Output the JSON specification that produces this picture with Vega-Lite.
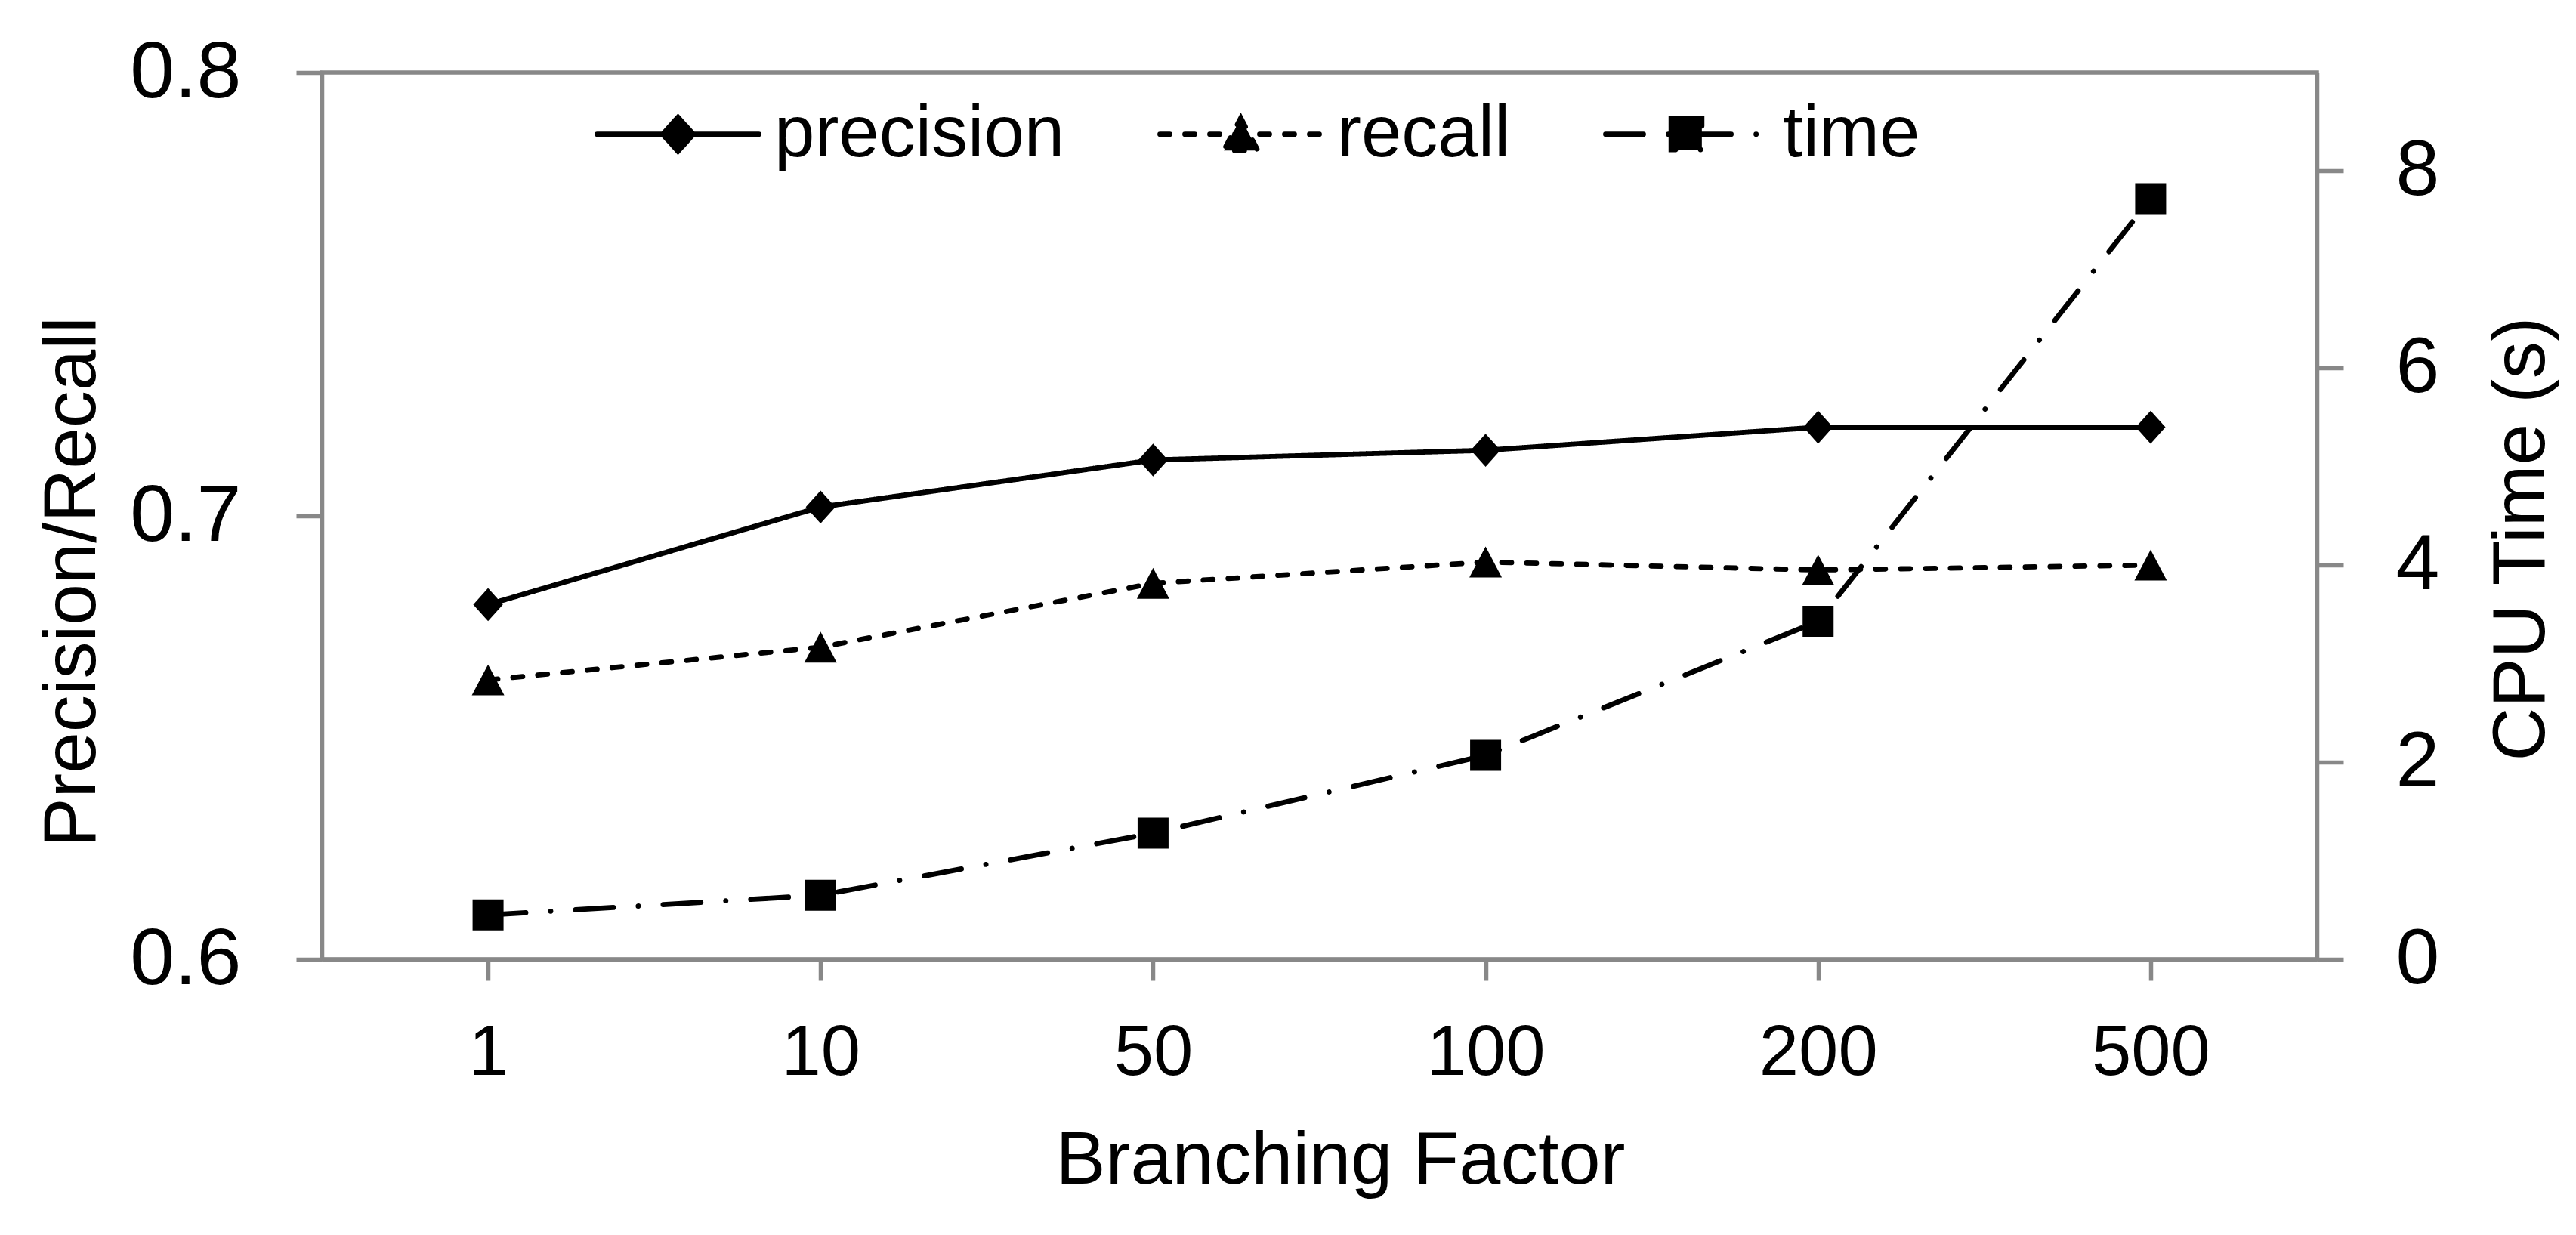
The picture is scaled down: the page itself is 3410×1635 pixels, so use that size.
{
  "$schema": "https://vega.github.io/schema/vega-lite/v6.json",
  "width": 2641,
  "height": 1174,
  "autosize": {"type": "none"},
  "padding": {"left": 426, "top": 96, "right": 343, "bottom": 365},
  "background": "white",
  "config": {
    "font": "Liberation Sans",
    "view": {"stroke": "#888888", "strokeWidth": 5.5},
    "axis": {
      "grid": false,
      "domainColor": "#888888",
      "domainWidth": 5.5,
      "tickColor": "#888888",
      "tickWidth": 5.5,
      "labelColor": "black",
      "titleColor": "black",
      "titleFontWeight": "normal",
      "labelFont": "Liberation Sans",
      "titleFont": "Liberation Sans",
      "labelLimit": 1000
    }
  },
  "data": {
    "values": [
      {"bf": "1", "series": "precision", "value": 0.680},
      {"bf": "10", "series": "precision", "value": 0.702},
      {"bf": "50", "series": "precision", "value": 0.7126},
      {"bf": "100", "series": "precision", "value": 0.7148},
      {"bf": "200", "series": "precision", "value": 0.720},
      {"bf": "500", "series": "precision", "value": 0.720},
      {"bf": "1", "series": "recall", "value": 0.663},
      {"bf": "10", "series": "recall", "value": 0.6704},
      {"bf": "50", "series": "recall", "value": 0.6848},
      {"bf": "100", "series": "recall", "value": 0.6896},
      {"bf": "200", "series": "recall", "value": 0.6878},
      {"bf": "500", "series": "recall", "value": 0.6889},
      {"bf": "1", "series": "time", "value": 0.45},
      {"bf": "10", "series": "time", "value": 0.65},
      {"bf": "50", "series": "time", "value": 1.28},
      {"bf": "100", "series": "time", "value": 2.07},
      {"bf": "200", "series": "time", "value": 3.43},
      {"bf": "500", "series": "time", "value": 7.72}
    ]
  },
  "encoding": {
    "x": {
      "field": "bf",
      "type": "ordinal",
      "sort": ["1", "10", "50", "100", "200", "500"],
      "scale": {"type": "point", "padding": 0.5},
      "axis": {
        "labelAngle": 0,
        "tickSize": 28,
        "labelPadding": 50,
        "labelFontSize": 94,
        "title": "Branching Factor",
        "titleFontSize": 99,
        "titleX": 1348,
        "titleY": 296,
        "titleBaseline": "alphabetic",
        "titleAlign": "center"
      }
    }
  },
  "layer": [
    {
      "transform": [{"filter": "datum.series !== 'time'"}],
      "encoding": {
        "y": {
          "field": "value",
          "type": "quantitative",
          "scale": {"domain": [0.6, 0.8], "zero": false, "nice": false},
          "axis": {
            "orient": "left",
            "values": [0.6, 0.7, 0.8],
            "format": ".1f",
            "tickSize": 34,
            "labelPadding": 73,
            "labelFontSize": 106,
            "title": "Precision/Recall",
            "titleFontSize": 98,
            "titleAngle": 270,
            "titleX": -330,
            "titleY": 674,
            "titleBaseline": "middle",
            "titleAlign": "center"
          }
        }
      },
      "layer": [
        {
          "mark": {"type": "line", "color": "black", "strokeWidth": 6.8, "strokeCap": "round"},
          "encoding": {
            "strokeDash": {
              "field": "series",
              "type": "nominal",
              "scale": {"domain": ["precision", "recall", "time"], "range": [[1, 0], [13, 20], [50, 33, 0.1, 33]]},
              "legend": {
                "orient": "none",
                "legendX": 361,
                "legendY": -29,
                "direction": "horizontal",
                "title": null,
                "padding": 0,
                "symbolSize": 45796,
                "symbolStrokeWidth": 6.8,
                "symbolStrokeColor": "black",
                "symbolFillColor": "black",
                "labelFontSize": 96,
                "labelOffset": 17,
                "columnPadding": 111,
                "labelColor": "black",
                "labelFont": "Liberation Sans",
                "labelLimit": 0,
                "encode": {
                  "symbols": {
                    "update": {
                      "shape": {"signal": "datum.value === 'precision' ? 'M-1,0H1M0,-0.21L0.19,0L0,0.21L-0.19,0Z' : datum.value === 'recall' ? 'M-1,0H1M0,-0.2L0.21,0.2L-0.21,0.2Z' : 'M-1,0H1M-0.19,-0.19H0.19V0.19H-0.19Z'"},
                      "fill": {"value": "black"},
                      "stroke": {"value": "black"},
                      "strokeCap": {"value": "round"},
                      "opacity": {"value": 1}
                    }
                  }
                }
              }
            }
          }
        },
        {
          "transform": [{"filter": "datum.series === 'precision'"}],
          "mark": {"type": "point", "filled": true, "color": "black", "size": 1900, "opacity": 1, "strokeWidth": 0, "shape": "M0,-1L0.9,0L0,1L-0.9,0Z"}
        },
        {
          "transform": [{"filter": "datum.series === 'recall'"}],
          "mark": {"type": "point", "filled": true, "color": "black", "size": 1850, "opacity": 1, "strokeWidth": 0, "shape": "M0,-0.95L1,0.95L-1,0.95Z"}
        }
      ]
    },
    {
      "transform": [{"filter": "datum.series === 'time'"}],
      "encoding": {
        "y": {
          "field": "value",
          "type": "quantitative",
          "scale": {"domain": [0, 9], "nice": false},
          "axis": {
            "orient": "right",
            "values": [0, 2, 4, 6, 8],
            "tickSize": 35,
            "labelPadding": 69,
            "labelFontSize": 104,
            "title": "CPU Time (s)",
            "titleFontSize": 98,
            "titleAngle": 270,
            "titleX": 271,
            "titleY": 617,
            "titleBaseline": "middle",
            "titleAlign": "center"
          }
        }
      },
      "layer": [
        {
          "mark": {"type": "line", "color": "black", "strokeWidth": 6.8, "strokeCap": "round"},
          "encoding": {
            "strokeDash": {
              "field": "series",
              "type": "nominal",
              "scale": {"domain": ["precision", "recall", "time"], "range": [[1, 0], [13, 20], [50, 33, 0.1, 33]]}
            }
          }
        },
        {
          "mark": {"type": "point", "filled": true, "color": "black", "size": 1681, "opacity": 1, "strokeWidth": 0, "shape": "M-1,-1H1V1H-1Z"}
        }
      ]
    }
  ],
  "resolve": {"scale": {"y": "independent"}}
}
